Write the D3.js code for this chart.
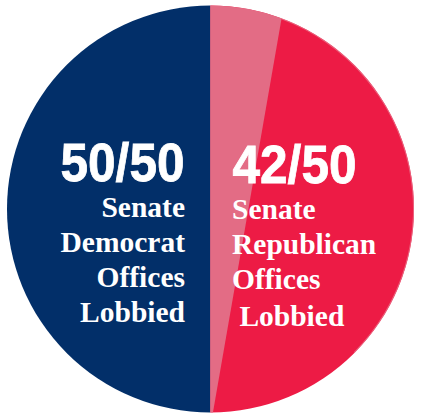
<!DOCTYPE html>
<html>
<head>
<meta charset="utf-8">
<script src="https://cdn.jsdelivr.net/npm/d3@7"></script>
<style>
  html, body { margin: 0; padding: 0; background: #fff; }
  svg { display: block; }
</style>
</head>
<body>
<div id="chart"></div>
<script>
// offices per party, and how many of them were lobbied
var parties = ["Democrat", "Republican"];
var totals = [50, 50];
var lobbied = [50, 42];
var bigLabels = ["50/50", "42/50"];
var textLines = [
  ["Senate", "Democrat", "Offices", "Lobbied"],
  ["Senate", "Republican", "Offices", " Lobbied"]
];

var width = 425,
    height = 413,
    cx = 210.5,
    cy = 209,
    radius = 203.5;

var svg = d3.select("#chart")
  .append("svg")
    .attr("width", width)
    .attr("height", height);

var g = svg.append("g")
  .attr("transform", "translate(" + cx + "," + cy + ")");

var colors = d3.scaleOrdinal()
  .domain(parties)
  .range(["#022f69", "#ed1b45"]);

// democrats fill the left half, republicans the right half
var pie = d3.pie()
  .sort(null)
  .startAngle(Math.PI)
  .endAngle(3 * Math.PI);

var arc = d3.arc()
  .innerRadius(0)
  .outerRadius(radius);

var slices = pie(totals);

g.selectAll("path.half")
  .data(slices)
  .enter()
  .append("path")
    .attr("class", "half")
    .attr("d", arc)
    .style("fill", function(d, i) { return colors(parties[i]); });

// light sliver for republican offices that were not lobbied
var sliverAngle = d3.scaleLinear()
  .domain([0, 50])
  .range([0, Math.PI * 0.71]);

var notLobbied = totals[1] - lobbied[1];
var a = sliverAngle(notLobbied);
var bottom = d3.pointRadial(Math.PI - 0.012, radius);

var p = d3.path();
p.moveTo(0, -radius);
p.arc(0, 0, radius, -Math.PI / 2, a - Math.PI / 2);
p.lineTo(bottom[0], bottom[1]);
p.lineTo(0, radius);
p.closePath();

g.append("path")
  .attr("d", p.toString())
  .style("fill", "#e36c85");

// thin light rim on the red side
g.append("path")
  .attr("d", d3.arc().innerRadius(radius - 1).outerRadius(radius)
    .startAngle(a).endAngle(Math.PI * 0.75)())
  .style("fill", "#e8728a")
  .style("opacity", 0.8);

// big counts
var bigX = [-150, 22];
var bigY = [-28, -26];
svg.selectAll("text.big")
  .data(bigLabels)
  .enter()
  .append("text")
    .attr("class", "big")
    .attr("x", function(d, i) { return cx + bigX[i]; })
    .attr("y", function(d, i) { return cy + bigY[i]; })
    .attr("textLength", 124)
    .attr("lengthAdjust", "spacingAndGlyphs")
    .style("font-family", "'Liberation Sans Narrow', 'Liberation Sans', Arial, sans-serif")
    .style("font-weight", "bold")
    .style("font-size", "53px")
    .style("fill", "#fff")
    .style("stroke", "#fff")
    .style("stroke-width", 0.8)
    .text(function(d) { return d; });

// descriptions
var lineH = 35;
var descX = [-25.5, 21.5];
var descY = [7.5, 10];
var anchors = ["end", "start"];

textLines.forEach(function(lines, i) {
  svg.append("text")
    .attr("x", cx + descX[i])
    .attr("y", cy + descY[i])
    .attr("text-anchor", anchors[i])
    .style("font-family", "'Liberation Serif', 'Times New Roman', serif")
    .style("font-weight", "bold")
    .style("font-size", "29.5px")
    .style("fill", "#fff")
    .style("white-space", "pre")
    .selectAll("tspan")
    .data(lines)
    .enter()
    .append("tspan")
      .attr("x", cx + descX[i])
      .attr("dy", function(d, j) { return j === 0 ? 0 : (i === 1 && j === 3 ? lineH + 2 : lineH); })
      .text(function(d) { return d; });
});
</script>
</body>
</html>
